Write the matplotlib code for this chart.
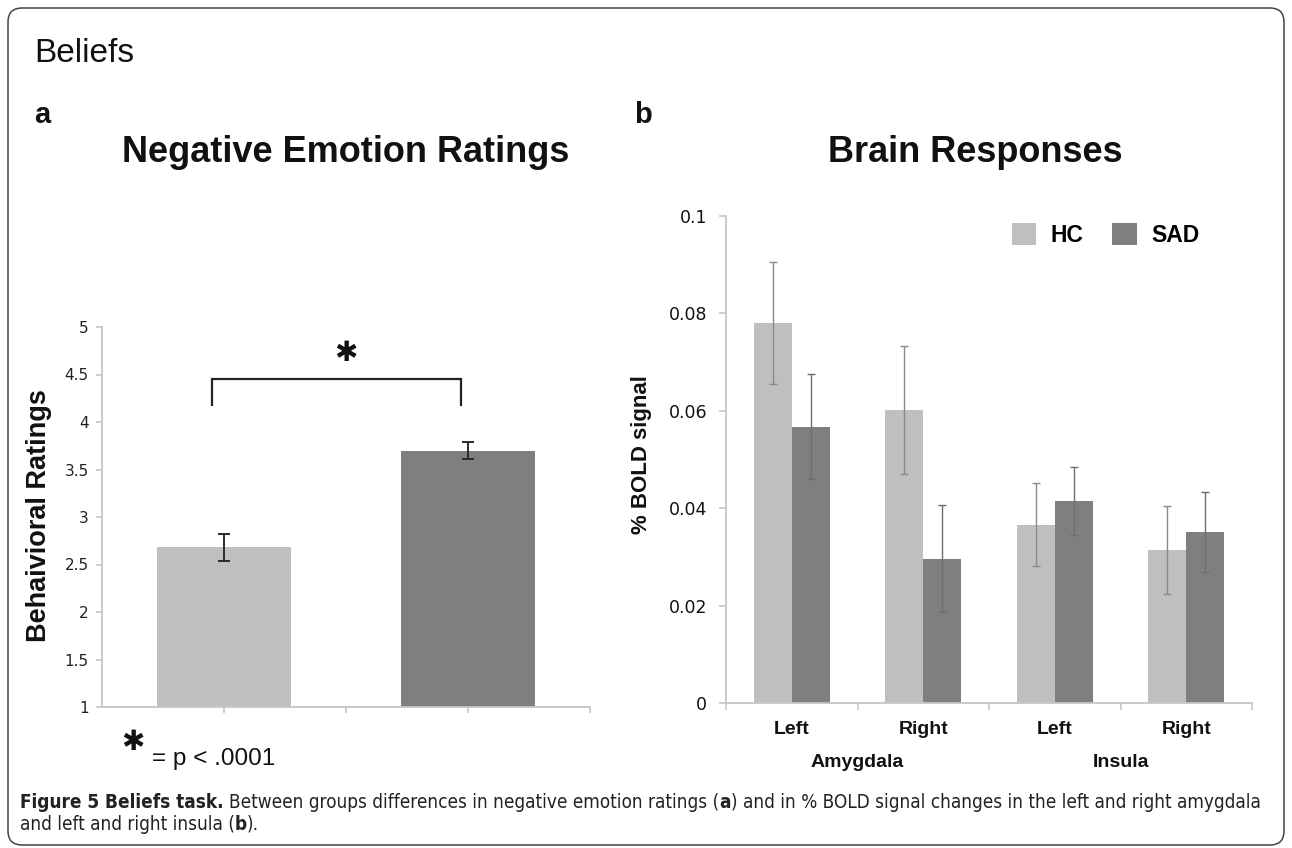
import numpy as np
import matplotlib
matplotlib.use('Agg')
import matplotlib.pyplot as plt
from matplotlib import font_manager
from matplotlib.patches import FancyBboxPatch
from matplotlib.transforms import IdentityTransform

# panel a: negative emotion ratings
groups = ['HC', 'SAD']
ratings = [2.68, 3.70]
ratings_err = [0.14, 0.09]
rating_ticks = [1, 1.5, 2, 2.5, 3, 3.5, 4, 4.5, 5]
rating_labels = ['1', '1.5', '2', '2.5', '3', '3.5', '4', '4.5', '5']

# panel b: % BOLD signal
sides = ['Left', 'Right', 'Left', 'Right']
regions = ['Amygdala', 'Insula']
hc_bold = [0.0780, 0.0602, 0.0366, 0.0314]
hc_err = [0.0125, 0.0131, 0.0085, 0.0090]
sad_bold = [0.0567, 0.0296, 0.0414, 0.0352]
sad_err = [0.0108, 0.0110, 0.0070, 0.0082]
bold_ticks = [0, 0.02, 0.04, 0.06, 0.08, 0.1]
bold_labels = ['0', '0.02', '0.04', '0.06', '0.08', '0.1']

light = '#bfbfbf'
dark = '#7f7f7f'
axis_col = '#c6c6c6'
sans = 'Liberation Sans'
star = '\u2731'  # heavy asterisk

fonts = font_manager.fontManager.ttflist
names = {f.name for f in fonts}
if 'Liberation Sans Narrow' in names:
    cap_font, cap_stretch = 'Liberation Sans Narrow', 'normal'
elif any(f.name == 'DejaVu Sans' and f.stretch == 'condensed' for f in fonts):
    cap_font, cap_stretch = 'DejaVu Sans', 'condensed'
else:
    cap_font, cap_stretch = 'DejaVu Sans', 'normal'

W, H = 1292, 848
fig = plt.figure(figsize=(W / 100, H / 100), dpi=100)
fig.patch.set_facecolor('white')


def fx(px):
    return px / W


def fy(py):
    return 1 - py / H


# rounded frame around the whole figure
frame = FancyBboxPatch((8, 3), 1276, 837, boxstyle='round,pad=0,rounding_size=14',
                       transform=IdentityTransform(), facecolor='none',
                       edgecolor='#444444', linewidth=1.1)
fig.patches.append(frame)

fig.text(fx(34), fy(53), 'Beliefs', fontsize=24, family=sans, va='center', color='#111')
fig.text(fx(34), fy(115), 'a', fontsize=21, family=sans, weight='bold', va='center', color='#111')
fig.text(fx(634), fy(115), 'b', fontsize=21, family=sans, weight='bold', va='center', color='#111')

# ---- panel a ----
ax1 = fig.add_axes([fx(102), fy(707), fx(590) - fx(102), (707 - 327) / H])
ax1.bar([1, 3], ratings, width=1.1, color=[light, dark])
ax1.errorbar([1, 3], ratings, yerr=ratings_err, fmt='none', ecolor='#2a2a2a',
             elinewidth=1.4, capsize=4.5, capthick=1.4)
ax1.set_xlim(0, 4)
ax1.set_ylim(1, 5)
ax1.set_yticks(rating_ticks)
ax1.set_yticklabels(rating_labels, family='DejaVu Sans', fontsize=11, color='#222')
ax1.set_xticks([1, 2, 3, 4])
ax1.set_xticklabels([])
for s in ['top', 'right']:
    ax1.spines[s].set_visible(False)
for s in ['left', 'bottom']:
    ax1.spines[s].set_color(axis_col)
    ax1.spines[s].set_linewidth(1.3)
ax1.tick_params(colors=axis_col, labelcolor='#222', length=4, width=1.2, pad=5.5)

# significance bracket
bracket_x = [0.9, 0.9, 2.94, 2.94]
bracket_y = [4.18, 4.457, 4.457, 4.18]
ax1.plot(bracket_x, bracket_y, color='#222', lw=1.6, solid_joinstyle='miter')
ax1.text(2.0, 4.73, star, fontsize=20, family='DejaVu Sans', weight='bold',
         ha='center', va='center', color='#111')

fig.text(fx(346), fy(152), 'Negative Emotion Ratings', fontsize=26, family=sans,
         weight='bold', ha='center', va='center', color='#111')
fig.text(fx(39), fy(516), 'Behaivioral Ratings', fontsize=19.5, family=sans,
         weight='bold', rotation=90, ha='center', va='center', color='#111')

# footnote
fig.text(fx(133), fy(742), star, fontsize=20, family='DejaVu Sans', weight='bold',
         ha='center', va='center', color='#111')
fig.text(fx(152), fy(759), '= p < .0001', fontsize=17.5, family=sans,
         va='center', color='#111')

# ---- panel b ----
ax2 = fig.add_axes([fx(726), fy(703), fx(1252) - fx(726), (703 - 216) / H])
xc = np.arange(len(sides)) + 0.5
bw = 0.29
ax2.bar(xc - bw / 2, hc_bold, width=bw, color=light, label='HC')
ax2.bar(xc + bw / 2, sad_bold, width=bw, color=dark, label='SAD')
ax2.errorbar(xc - bw / 2, hc_bold, yerr=hc_err, fmt='none', ecolor='#8a8a8a',
             elinewidth=1.0, capsize=3, capthick=1.0)
ax2.errorbar(xc + bw / 2, sad_bold, yerr=sad_err, fmt='none', ecolor='#6e6e6e',
             elinewidth=1.0, capsize=3, capthick=1.0)
ax2.set_xlim(0, 4)
ax2.set_ylim(0, 0.1)
ax2.set_yticks(bold_ticks)
ax2.set_yticklabels(bold_labels, family='DejaVu Sans', fontsize=12.5, color='#111')
ax2.set_xticks([0, 1, 2, 3, 4])
ax2.set_xticklabels([])
ax2.set_xticks(xc, minor=True)
ax2.set_xticklabels(sides, minor=True, family=sans, weight='bold', fontsize=14, color='#111')
ax2.tick_params(axis='x', which='minor', length=0, pad=13)
for s in ['top', 'right']:
    ax2.spines[s].set_visible(False)
for s in ['left', 'bottom']:
    ax2.spines[s].set_color(axis_col)
    ax2.spines[s].set_linewidth(1.3)
ax2.tick_params(which='major', colors=axis_col, labelcolor='#111', length=5, width=1.2, pad=8.5)

for i, name in enumerate(regions):
    ax2.annotate(name, xy=(2 * i + 1, 0), xycoords=('data', 'axes fraction'),
                 xytext=(0, -43), textcoords='offset points', ha='center', va='center',
                 family=sans, weight='bold', fontsize=14, color='#111')

fig.text(fx(975), fy(152), 'Brain Responses', fontsize=26, family=sans,
         weight='bold', ha='center', va='center', color='#111')
fig.text(fx(642), fy(455), '% BOLD signal', fontsize=16, family=sans,
         weight='bold', rotation=90, ha='center', va='center', color='#111')

leg = ax2.legend(loc='center left', bbox_to_anchor=(fx(1012), fy(235)),
                 bbox_transform=fig.transFigure, ncol=2, frameon=False,
                 handlelength=1.05, handleheight=1.05, handletextpad=0.65,
                 columnspacing=1.25, borderpad=0, borderaxespad=0,
                 prop={'family': sans, 'weight': 'bold', 'size': 16.5})

# ---- caption ----
renderer = fig.canvas.get_renderer()
line1 = [('Figure 5 Beliefs task.', 'bold'),
         (' ', 'normal'),
         ('Between groups differences in negative emotion ratings (', 'normal'),
         ('a', 'bold'),
         (') and in % BOLD signal changes in the left and right amygdala', 'normal')]
line2 = [('and left and right insula (', 'normal'), ('b', 'bold'), (').', 'normal')]


def cap_text(x, y, s, size, weight):
    return fig.text(x, y, s, family=cap_font, stretch=cap_stretch, fontsize=size,
                    weight=weight, va='center', color='#222')


def piece_width(s, weight, size):
    if s.strip() == '':
        a = cap_text(0, 0, 'x x', size, weight)
        b = cap_text(0, 0, 'xx', size, weight)
        w = a.get_window_extent(renderer).width - b.get_window_extent(renderer).width
        a.remove()
        b.remove()
        return w
    t = cap_text(0, 0, s, size, weight)
    w = t.get_window_extent(renderer).width
    t.remove()
    return w


ref = 10
w_ref = sum(piece_width(s, wt, ref) for s, wt in line1)
cap_size = ref * 1245 / w_ref


def draw_line(pieces, x0, y0, size):
    x = x0
    for s, wt in pieces:
        w = piece_width(s, wt, size)
        if s.strip():
            cap_text(fx(x), fy(y0), s, size, wt)
        x += w


draw_line(line1, 20, 802, cap_size)
draw_line(line2, 20, 824, cap_size)

fig.savefig('out.png', dpi=100, facecolor='white')
